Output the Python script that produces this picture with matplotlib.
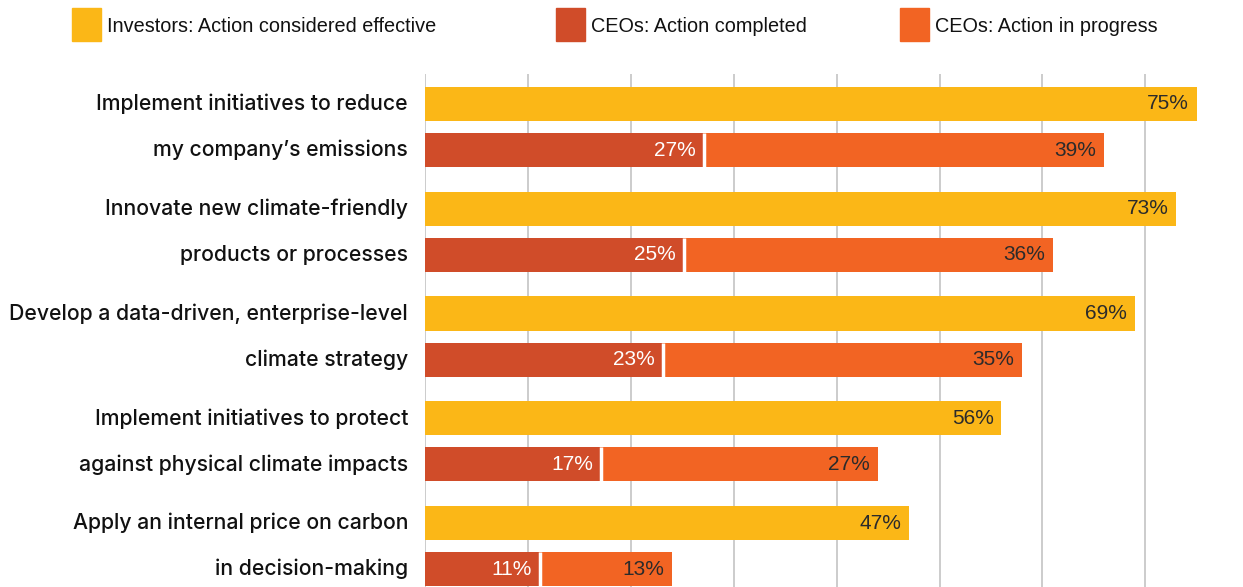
import matplotlib.pyplot as plt
from matplotlib.patches import Rectangle

plt.rcParams['font.family'] = ['Liberation Sans', 'DejaVu Sans']

labels = [
    ("Implement initiatives to reduce", "my company\u2019s emissions"),
    ("Innovate new climate-friendly", "products or processes"),
    ("Develop a data-driven, enterprise-level", "climate strategy"),
    ("Implement initiatives to protect", "against physical climate impacts"),
    ("Apply an internal price on carbon", "in decision-making"),
]
investors = [75, 73, 69, 56, 47]
completed = [27, 25, 23, 17, 11]
in_progress = [39, 36, 35, 27, 13]

legend_labels = ["Investors: Action considered effective",
                 "CEOs: Action completed",
                 "CEOs: Action in progress"]
colors = ["#FBB717", "#D04C29", "#F26423"]

W, H = 1243, 587
fig = plt.figure(figsize=(W / 100, H / 100), dpi=100)
ax = fig.add_axes([425.5 / W, 0, (W - 425.5) / W, (H - 74) / H])

gap = 0.44
h = 0.325
for i in range(len(investors)):
    y1 = i
    y2 = i + gap
    ax.barh(y1, investors[i], height=h, color=colors[0], zorder=3)
    ax.barh(y2, completed[i], height=h, color=colors[1], zorder=3)
    ax.barh(y2, in_progress[i], left=completed[i], height=h, color=colors[2], zorder=3)
    ax.vlines(completed[i] + 0.1, y2 - h / 2, y2 + h / 2, color='white', linewidth=2.5, zorder=4)
    ax.text(investors[i] - 0.75, y1, f"{investors[i]}%", ha='right', va='center',
            fontsize=15, color='#2b2b2b', zorder=5)
    ax.text(completed[i] - 0.7, y2, f"{completed[i]}%", ha='right', va='center',
            fontsize=15, color='white', zorder=5)
    ax.text(completed[i] + in_progress[i] - 0.75, y2, f"{in_progress[i]}%", ha='right', va='center',
            fontsize=15, color='#2b2b2b', zorder=5)
    for y, t in ((y1, labels[i][0]), (y2, labels[i][1])):
        ax.text(-1.7, y, t, ha='right', va='center', fontsize=15.25, fontweight='medium',
                family=['Inter', 'Liberation Sans'], color='#111111', clip_on=False)

ax.set_xlim(0, 79.5)
ax.set_ylim(4.61, -0.286)
ax.set_xticks(range(0, 80, 10))
ax.grid(axis='x', color='#c4c4c4', linewidth=1.2, zorder=0)
ax.tick_params(left=False, bottom=False, labelleft=False, labelbottom=False)
for s in ax.spines.values():
    s.set_visible(False)

# legend
sq_x = [72, 556, 900]
for k in range(3):
    fig.add_artist(Rectangle((sq_x[k] / W, 1 - 41 / H), 29 / W, 33 / H,
                             transform=fig.transFigure, color=colors[k]))
    fig.text((sq_x[k] + 35) / W, 1 - 26.5 / H, legend_labels[k], ha='left', va='center',
             fontsize=14.3, color='#111111')

plt.savefig('out.png', dpi=100)
